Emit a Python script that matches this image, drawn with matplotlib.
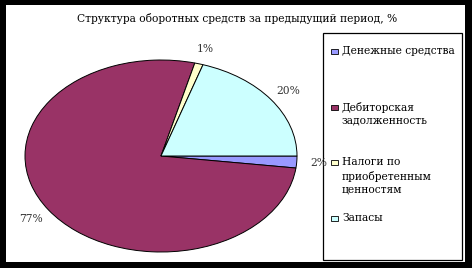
import matplotlib.pyplot as plt
from matplotlib.patches import Rectangle

# structure of current assets, previous period
title = 'Структура оборотных средств за предыдущий период, %'
labels = ['Денежные средства',
          'Дебиторская\nзадолженность',
          'Налоги по\nприобретенным\nценностям',
          'Запасы']
shares = [2, 77, 1, 20]
colors = ['#9999FF', '#993366', '#FFFFCC', '#CCFFFF']

W, H = 472, 268
FS = 7.7
fig = plt.figure(figsize=(W/100, H/100), dpi=100, facecolor='black')

# white chart area inside the black frame
fig.patches.append(Rectangle((6/W, 1-262/H), (465-6)/W, (262-5)/H,
                             transform=fig.transFigure, facecolor='white',
                             edgecolor='none', zorder=0))

fig.text(237/W, 1-18/H, title, ha='center', va='center',
         family='DejaVu Serif', fontsize=FS, color='black')

# pie is drawn squashed (wider than tall) like the original
ax = fig.add_axes([25/W, 1-252/H, 272/W, 192/H], zorder=3)
wedges, texts, autotexts = ax.pie(shares, colors=colors, startangle=0, counterclock=False,
                                  autopct='%1.0f%%', pctdistance=1.16,
                                  wedgeprops=dict(edgecolor='black', linewidth=0.7))
for t in autotexts:
    t.set_family('DejaVu Serif')
    t.set_fontsize(FS)
    t.set_color('#333333')
ax.set_aspect('auto')
ax.set_xlim(-1, 1)
ax.set_ylim(-1, 1)

# legend box
fig.patches.append(Rectangle((323/W, 1-260/H), (462-323)/W, (260-33)/H,
                             transform=fig.transFigure, facecolor='white',
                             edgecolor='black', linewidth=0.9, zorder=1))
y0, step = 51.5, 55.7
for i, (lab, w) in enumerate(zip(labels, wedges)):
    y = y0 + i*step
    fig.patches.append(Rectangle((331/W, 1-(y+2.5)/H), 7/W, 5/H,
                                 transform=fig.transFigure, facecolor=w.get_facecolor(),
                                 edgecolor='black', linewidth=0.6, zorder=2))
    fig.text(342/W, 1-(y-5.5)/H, lab, ha='left', va='top', family='DejaVu Serif',
             fontsize=FS, linespacing=1.35, color='black', zorder=3)

fig.savefig('out.png', dpi=100, facecolor='black')
